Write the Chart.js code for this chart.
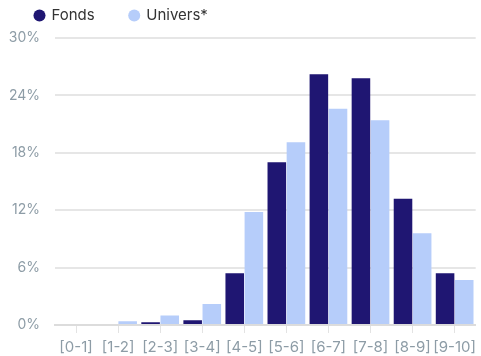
<!DOCTYPE html>
<html lang="fr">
<head>
  <meta charset="UTF-8" />
  <title>Répartition Fonds vs Univers</title>
  <script src="https://cdn.jsdelivr.net/npm/chart.js"></script>
  <style>
    html, body { margin: 0; padding: 0; background: #fff; }
    .chart-container { position: relative; width: 481px; height: 356px; }
  </style>
</head>
<body>
  <div class="chart-container">
    <canvas id="distChart"></canvas>
  </div>

  <script>
    // Tranches de notes
    const categories = ['[0-1]', '[1-2]', '[2-3]', '[3-4]', '[4-5]', '[5-6]', '[6-7]', '[7-8]', '[8-9]', '[9-10]'];

    // Répartition en %
    const fonds   = [0, 0, 0.3, 0.5, 5.4, 17.0, 26.2, 25.8, 13.2, 5.4];
    const univers = [0, 0.4, 1.0, 2.2, 11.8, 19.1, 22.6, 21.4, 9.6, 4.7];

    const yTicks = [0, 6, 12, 18, 24, 30];

    new Chart(document.getElementById('distChart'), {
      type: 'bar',
      data: {
        labels: categories,
        datasets: [
          {
            label: 'Fonds',
            data: fonds,
            backgroundColor: '#1f1672',
            categoryPercentage: 0.91,
            barPercentage: 0.97
          },
          {
            label: 'Univers*',
            data: univers,
            backgroundColor: '#b6cdfa',
            categoryPercentage: 0.91,
            barPercentage: 0.97
          }
        ]
      },
      options: {
        responsive: true,
        maintainAspectRatio: false,
        animation: false,
        // haut négatif : la légende remonte, son padding sert d'espacement horizontal
        layout: { padding: { left: 0, right: 0, top: -27, bottom: -5 } },
        plugins: {
          tooltip: { enabled: false },
          // titre vide placé sous la légende, juste pour l'espace
          title: {
            display: true,
            text: '',
            weight: 500,
            padding: 0,
            font: { size: 5, lineHeight: 1 }
          },
          legend: {
            position: 'top',
            align: 'start',
            labels: {
              usePointStyle: true,
              pointStyle: 'circle',
              boxWidth: 9,
              boxHeight: 8.5,
              padding: 35,
              color: '#333',
              font: { family: 'Inter', size: 15 }
            }
          }
        },
        scales: {
          x: {
            grid: {
              offset: false,
              drawOnChartArea: false,
              drawTicks: true,
              tickLength: 8,
              color: '#e3e3e3'
            },
            border: { color: '#dcdcdc', width: 2 },
            ticks: {
              color: '#8d9ca6',
              padding: 5,
              maxRotation: 0,
              autoSkip: false,
              font: { family: 'Inter', size: 15 }
            }
          },
          y: {
            min: 0,
            max: 30,
            afterBuildTicks: axis => { axis.ticks = yTicks.map(v => ({ value: v })); },
            afterFit: axis => { axis.width = 55; },
            grid: { color: '#e6e6e6', lineWidth: 2, drawTicks: false },
            border: { display: false },
            ticks: {
              color: '#8d9ca6',
              padding: 15,
              font: { family: 'Inter', size: 14 },
              callback: v => v + '%'
            }
          }
        }
      }
    });
  </script>
</body>
</html>
